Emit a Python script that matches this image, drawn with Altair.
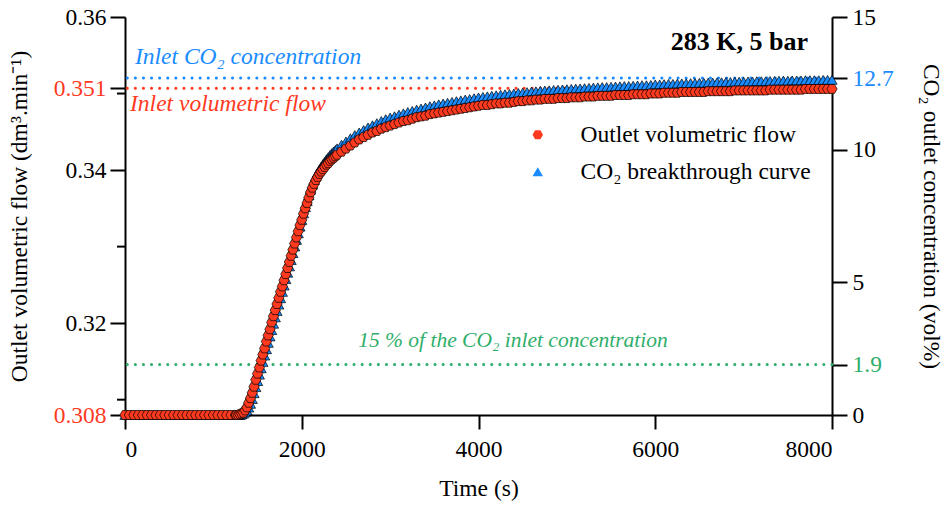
import altair as alt
import pandas as pd

FONT = "Liberation Serif"
RED = "#ff3a1f"
BLUE = "#1a8cff"
GREEN = "#2fae6a"

FLOW_NAME = "Outlet volumetric flow"
CO2_NAME = "CO\u2082 breakthrough curve"

# Sampling times (s): coarse before breakthrough, fine during the front, coarse on the plateau
time_flat = list(range(0, 1251, 50))
time_rise = list(range(1260, 2381, 20))
time_plateau = list(range(2400, 8001, 50))

# Outlet volumetric flow (dm3/min)
flow_flat = [0.3080] * len(time_flat)
flow_rise = [
    0.3080, 0.3080, 0.3081, 0.3082, 0.3083, 0.3086, 0.3090, 0.3096,
    0.3102, 0.3109, 0.3117, 0.3126, 0.3134, 0.3142, 0.3151, 0.3159, 0.3167, 0.3176,
    0.3184, 0.3192, 0.3201, 0.3209, 0.3217, 0.3225, 0.3233, 0.3241, 0.3248, 0.3256,
    0.3264, 0.3272, 0.3280, 0.3288, 0.3296, 0.3304, 0.3312, 0.3320, 0.3328, 0.3335,
    0.3343, 0.3350, 0.3357, 0.3364, 0.3371, 0.3377, 0.3382, 0.3387, 0.3391, 0.3395,
    0.3398, 0.3401, 0.3404, 0.3407, 0.3409, 0.3412, 0.3414, 0.3416, 0.3418,
]
flow_plateau = [
    0.3420, 0.3424, 0.3428, 0.3432, 0.3436, 0.3440, 0.3443, 0.3446, 0.3449, 0.3451,
    0.3454, 0.3456, 0.3458, 0.3460, 0.3462, 0.3464, 0.3465, 0.3467, 0.3469, 0.3470,
    0.3471, 0.3473, 0.3474, 0.3475, 0.3476, 0.3477, 0.3478, 0.3479, 0.3480, 0.3481,
    0.3482, 0.3483, 0.3484, 0.3485, 0.3485, 0.3486, 0.3487, 0.3487, 0.3488, 0.3488,
    0.3489, 0.3490, 0.3490, 0.3491, 0.3491, 0.3492, 0.3492, 0.3493, 0.3493, 0.3493,
    0.3494, 0.3494, 0.3494, 0.3495, 0.3495, 0.3495, 0.3496, 0.3496, 0.3496, 0.3497,
    0.3497, 0.3497, 0.3497, 0.3498, 0.3498, 0.3498, 0.3498, 0.3499, 0.3499, 0.3499,
    0.3499, 0.3500, 0.3500, 0.3500, 0.3501, 0.3501, 0.3501, 0.3501, 0.3502, 0.3502,
    0.3502, 0.3502, 0.3502, 0.3502, 0.3503, 0.3503, 0.3503, 0.3503, 0.3503, 0.3503,
    0.3504, 0.3504, 0.3504, 0.3504, 0.3504, 0.3504, 0.3504, 0.3504, 0.3505, 0.3505,
    0.3505, 0.3505, 0.3505, 0.3505, 0.3505, 0.3505, 0.3506, 0.3506, 0.3506, 0.3506,
    0.3506, 0.3506, 0.3506,
]

# CO2 outlet concentration (vol%)
co2_flat = [0.0] * len(time_flat)
co2_rise = [
    0.0, 0.0, 0.0, 0.02, 0.05, 0.10, 0.17, 0.28,
    0.42, 0.60, 0.82, 1.05, 1.28, 1.52, 1.76, 2.00, 2.24, 2.48,
    2.72, 2.96, 3.20, 3.44, 3.68, 3.92, 4.16, 4.40, 4.64, 4.88,
    5.12, 5.36, 5.60, 5.84, 6.10, 6.35, 6.60, 6.85, 7.10, 7.35,
    7.60, 7.83, 8.06, 8.28, 8.49, 8.68, 8.85, 9.00, 9.14, 9.26,
    9.36, 9.46, 9.55, 9.64, 9.72, 9.80, 9.87, 9.93, 9.99,
]
co2_plateau = [
    10.05, 10.19, 10.31, 10.43, 10.55, 10.65, 10.74, 10.84, 10.92, 11.00,
    11.08, 11.15, 11.21, 11.26, 11.32, 11.37, 11.42, 11.46, 11.51, 11.55,
    11.59, 11.64, 11.67, 11.71, 11.74, 11.77, 11.80, 11.83, 11.86, 11.89,
    11.91, 11.94, 11.97, 11.99, 12.01, 12.03, 12.05, 12.07, 12.09, 12.10,
    12.12, 12.14, 12.15, 12.17, 12.19, 12.20, 12.22, 12.23, 12.24, 12.25,
    12.26, 12.27, 12.28, 12.29, 12.30, 12.31, 12.32, 12.33, 12.34, 12.35,
    12.36, 12.36, 12.37, 12.38, 12.39, 12.40, 12.40, 12.41, 12.42, 12.43,
    12.43, 12.44, 12.46, 12.46, 12.47, 12.48, 12.48, 12.49, 12.50, 12.50,
    12.51, 12.51, 12.52, 12.52, 12.53, 12.53, 12.54, 12.54, 12.55, 12.55,
    12.56, 12.56, 12.56, 12.57, 12.57, 12.58, 12.58, 12.58, 12.59, 12.59,
    12.60, 12.60, 12.60, 12.61, 12.61, 12.61, 12.62, 12.62, 12.62, 12.62,
    12.63, 12.63, 12.63,
]

# Reference levels
inlet_flow = 0.3507          # inlet volumetric flow (dm3/min)
inlet_co2 = 12.7             # inlet CO2 concentration (vol%)
breakthrough_co2 = 1.9       # 15 % of the inlet concentration

flow_ticks = [0.308, 0.32, 0.34, inlet_flow, 0.36]
flow_minor_ticks = [0.31, 0.33, 0.35]
co2_ticks = [0, breakthrough_co2, 5, 10, inlet_co2, 15]
time_ticks = [0, 2000, 4000, 6000, 8000]

time_s = time_flat + time_rise + time_plateau
flow = flow_flat + flow_rise + flow_plateau
co2 = co2_flat + co2_rise + co2_plateau

flow_df = pd.DataFrame({"time": time_s, "flow": flow, "series": FLOW_NAME})
co2_df = pd.DataFrame({"time": time_s, "co2": co2, "series": CO2_NAME})

HEXAGON = "M-1,0L-0.5,-0.866L0.5,-0.866L1,0L0.5,0.866L-0.5,0.866Z"

x_scale = alt.Scale(domain=[0, 8000], nice=False, zero=False)
flow_scale = alt.Scale(domain=[0.308, 0.36], nice=False, zero=False)
co2_scale = alt.Scale(domain=[0, 15], nice=False)

x_axis = alt.Axis(values=time_ticks, format="d", title="Time (s)", tickSize=14,
                  labelPadding=8, titlePadding=16)

flow_axis = alt.Axis(
    orient="left", values=flow_ticks, tickSize=15, labelPadding=4,
    labelExpr="datum.value < 0.31 ? '0.308' : (datum.value > 0.35 && datum.value < 0.352) ? '0.351' : format(datum.value, '.2f')",
    labelColor={"condition": {"test": "datum.value < 0.31 || (datum.value > 0.35 && datum.value < 0.352)", "value": RED}, "value": "black"},
    title="Outlet volumetric flow (dm\u00b3.min\u207b\u00b9)", titlePadding=22,
)
co2_axis = alt.Axis(
    orient="right", values=co2_ticks, tickSize=15, labelPadding=5,
    labelExpr="datum.value == 12.7 ? '12.7' : datum.value == 1.9 ? '1.9' : format(datum.value, 'd')",
    labelColor={"condition": [
        {"test": "datum.value == 12.7", "value": BLUE},
        {"test": "datum.value == 1.9", "value": GREEN},
    ], "value": "black"},
    title="CO\u2082 outlet concentration (vol%)", titlePadding=25,
)

legend = alt.Legend(
    title=None, orient="none", legendX=401, legendY=106, padding=0,
    labelFont=FONT, labelFontSize=23.5, labelColor="black", labelOffset=31, labelLimit=400,
    symbolSize=110, symbolStrokeColor="black", symbolStrokeWidth=0.8, symbolOpacity=1,
    rowPadding=12,
)
fill_enc = alt.Fill("series:N", scale=alt.Scale(domain=[FLOW_NAME, CO2_NAME], range=[RED, BLUE]), legend=legend)
shape_enc = alt.Shape("series:N", scale=alt.Scale(domain=[FLOW_NAME, CO2_NAME], range=[HEXAGON, "triangle-up"]), legend=legend)

point_style = dict(filled=True, size=105, stroke="black", strokeWidth=0.7, opacity=1)
dot_style = dict(strokeWidth=3, strokeDash=[0.1, 8], strokeCap="round")

x_enc = alt.X("time:Q", scale=x_scale, axis=x_axis)

# CO2 concentration, right axis
co2_levels = alt.Chart(pd.DataFrame({
    "co2": [inlet_co2, breakthrough_co2], "c": [BLUE, GREEN]
})).mark_rule(**dot_style).encode(
    y=alt.Y("co2:Q", scale=co2_scale, axis=None),
    color=alt.Color("c:N", scale=None),
)
co2_points = alt.Chart(co2_df).mark_point(**point_style).encode(
    x=x_enc,
    y=alt.Y("co2:Q", scale=co2_scale, axis=co2_axis),
    fill=fill_enc, shape=shape_enc,
)


def note(text, t, v, color, align, style="italic", weight="normal", size=23.5):
    return alt.Chart(pd.DataFrame({"time": [t], "co2": [v], "label": [text]})).mark_text(
        font=FONT, fontSize=size, fontStyle=style, fontWeight=weight, color=color,
        align=align, baseline="middle",
    ).encode(
        x=x_enc,
        y=alt.Y("co2:Q", scale=co2_scale, axis=None),
        text="label:N",
    )


notes = [
    note("Inlet CO\u2082 concentration", 113, 13.49, BLUE, "left"),
    note("Inlet volumetric flow", 57, 11.72, RED, "left"),
    note("15 % of the CO\u2082 inlet concentration", 4390, 2.79, GREEN, "center", size=21.5),
    note("283 K, 5 bar", 7728, 14.06, "black", "right", style="normal", weight="bold", size=26),
]

# Volumetric flow, left axis
flow_level = alt.Chart(pd.DataFrame({"flow": [inlet_flow]})).mark_rule(color=RED, **dot_style).encode(
    y=alt.Y("flow:Q", scale=flow_scale, axis=None),
)
flow_minor = alt.Chart(pd.DataFrame({"flow": flow_minor_ticks})).mark_rule(color="black", strokeWidth=2).encode(
    y=alt.Y("flow:Q", scale=flow_scale, axis=None),
    x=alt.value(-8), x2=alt.value(0),
)
flow_points = alt.Chart(flow_df).mark_point(**point_style).encode(
    x=x_enc,
    y=alt.Y("flow:Q", scale=flow_scale, axis=flow_axis),
    fill=fill_enc, shape=shape_enc,
)

# every layer carries its own fixed y domain, so independent y scales stay aligned
chart = alt.layer(
    co2_levels, flow_level, flow_minor, co2_points, flow_points, *notes
).resolve_scale(y="independent").properties(
    width=707, height=398,
    autosize=alt.AutoSizeParams(type="none"),
    padding={"left": 125, "top": 17, "right": 118, "bottom": 91},
).configure_view(stroke=None).configure_axis(
    grid=False, domainColor="black", domainWidth=2, tickColor="black", tickWidth=2,
    labelFont=FONT, labelFontSize=23.5, labelColor="black",
    titleFont=FONT, titleFontSize=23.5, titleFontWeight="normal", titleColor="black",
)

chart.save("out.html", embed_options={"renderer": "svg", "actions": False})
